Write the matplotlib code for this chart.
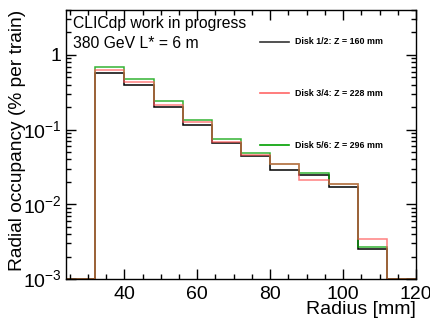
import matplotlib
matplotlib.use('Agg')
import matplotlib.pyplot as plt
from matplotlib.ticker import MultipleLocator, LogLocator, NullFormatter
import numpy as np

plt.rcParams['font.family'] = ['Liberation Sans', 'DejaVu Sans']
plt.rcParams['mathtext.fontset'] = 'custom'
plt.rcParams['mathtext.rm'] = 'Liberation Sans'

# bin edges in radius [mm], 8 mm bins
edges = [24, 32, 40, 48, 56, 64, 72, 80, 88, 96, 104, 112, 120]

labels = ['Disk 1/2: Z = 160 mm', 'Disk 3/4: Z = 228 mm', 'Disk 5/6: Z = 296 mm']
disk12 = [0, 0.57, 0.40, 0.20, 0.117, 0.067, 0.045, 0.0286, 0.0247, 0.0173, 0.00254, 0]
disk34 = [0, 0.63, 0.44, 0.217, 0.125, 0.0686, 0.0463, 0.0348, 0.0212, 0.0189, 0.0034, 0]
disk56 = [0, 0.70, 0.47, 0.24, 0.133, 0.0745, 0.049, 0.035, 0.0263, 0.0189, 0.0027, 0]

ymin, ymax = 1e-3, 4.0

fig = plt.figure(figsize=(4.31, 3.2), dpi=100)
ax = fig.add_axes([66/431, 1 - 279/320, 350/431, 269/320])

series = [(disk12, 'black', 1.0), (disk56, '#00a000', 0.8), (disk34, '#ff5555', 0.75)]
for vals, col, a in series:
    v = np.maximum(np.array(vals), ymin)
    ax.stairs(v, edges, color=col, lw=1.1, alpha=a, baseline=None)

ax.set_yscale('log')
ax.set_xlim(24, 120)
ax.set_ylim(ymin, ymax)

ax.xaxis.set_major_locator(MultipleLocator(20))
ax.xaxis.set_minor_locator(MultipleLocator(5))
ax.yaxis.set_minor_locator(LogLocator(base=10, subs=np.arange(2, 10), numticks=20))
ax.yaxis.set_minor_formatter(NullFormatter())
ax.set_yticks([1e-3, 1e-2, 1e-1, 1])
ax.set_yticklabels([r'$10^{-3}$', r'$10^{-2}$', r'$10^{-1}$', '1'])

ax.tick_params(which='both', direction='in', top=True, right=True, labelsize=14, width=1)
ax.tick_params(which='major', length=7)
ax.tick_params(which='minor', length=3.5)
ax.tick_params(axis='x', pad=5)
ax.tick_params(axis='y', pad=3)
for s in ax.spines.values():
    s.set_linewidth(1)

fig.text(416/431, 1 - 310/320, 'Radius [mm]', fontsize=14, ha='right', va='center')
fig.text(18/431, 1 - 10/320, 'Radial occupancy (% per train)', fontsize=13.8,
         rotation=90, ha='center', va='top')

ax.text(73/431, 1 - 28/320, 'CLICdp work in progress', transform=fig.transFigure,
        fontsize=11.3, va='baseline', ha='left')
ax.text(73/431, 1 - 48/320, '380 GeV L* = 6 m', transform=fig.transFigure,
        fontsize=11.3, va='baseline', ha='left')

# legend entries, spaced like the ROOT legend
leg_y = [42, 93, 145]
leg_cols = ['#333333', '#ff6666', '#00a000']
for lab, col, yp in zip(labels, leg_cols, leg_y):
    yf = 1 - yp / 320
    fig.add_artist(plt.Line2D([260/431, 289/431], [yf, yf], color=col, lw=1.2,
                              transform=fig.transFigure))
    fig.text(295/431, yf, lab, fontsize=6.4, fontweight='bold', va='center', ha='left')

fig.savefig('out.png', dpi=100)
